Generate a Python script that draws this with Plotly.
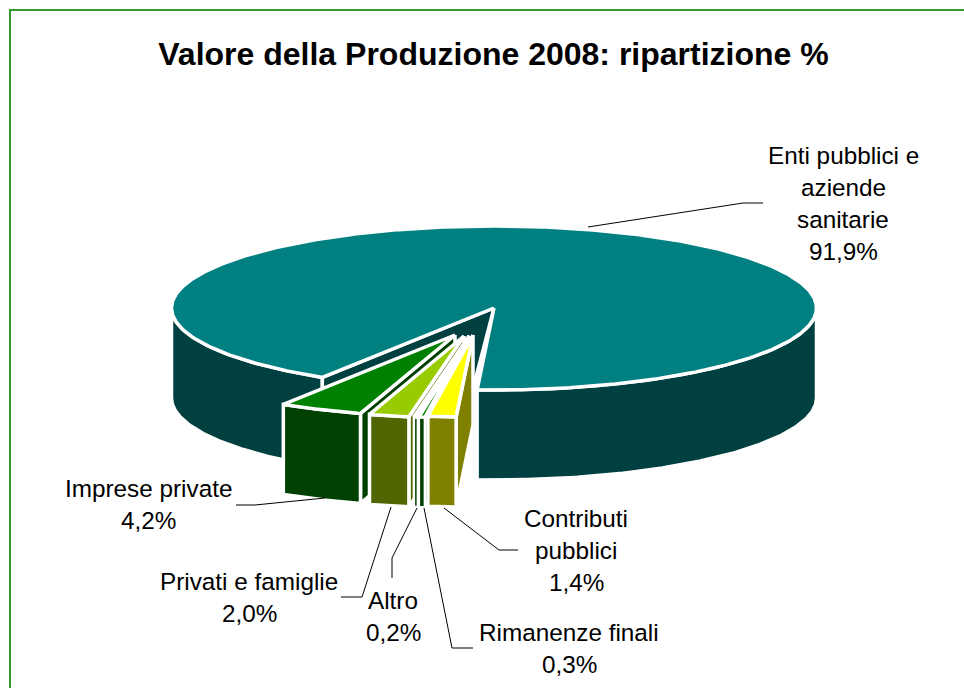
import math
import plotly.graph_objects as go

# ---- data ----
categories = ["Enti pubblici e aziende sanitarie", "Contributi pubblici", "Rimanenze finali",
              "Altro", "Privati e famiglie", "Imprese private"]
values = [91.9, 1.4, 0.3, 0.2, 2.0, 4.2]
value_labels = ["91,9%", "1,4%", "0,3%", "0,2%", "2,0%", "4,2%"]
label_lines = [["Enti pubblici e", "aziende", "sanitarie"], ["Contributi", "pubblici"],
               ["Rimanenze finali"], ["Altro"], ["Privati e famiglie"], ["Imprese private"]]
top_colors = ["#008080", "#FFFF00", "#008000", "#008000", "#99CC00", "#008000"]
wall_colors = ["#004040", "#808000", "#004000", "#004000", "#506600", "#004000"]

# ---- layout of the drawing (pixels of the 964x688 canvas) ----
CX, CY, RX, RY, H = 494, 308, 322.5, 82, 90
START = 3.0   # degrees from the front of the pie, growing towards the left (clockwise seen from above)
OFFSETS = {1: (-21, 27), 2: (-24, 28), 3: (-25, 28), 4: (-30, 28), 5: (-39, 27)}
LABEL_POS = [(843, 155.5), (576, 518.5), (569, 632.5), (393, 600.5), (249, 581.5), (148, 488.5)]
LINE_STEP = 32
LEADERS = [
    [(588, 227), (743, 203), (763, 203)],
    [(444, 508), (499, 550), (518, 550)],
    [(424, 508), (452, 648), (473, 648)],
    [(417, 508), (392, 558), (392, 578)],
    [(391, 507), (362, 597), (341, 597)],
    [(325, 498), (255, 505), (236, 505)],
]
GREEN = "#339933"
STROKE, THIN_STROKE = 3.5, 2.5


def rim(t, dx=0, dy=0):
    r = math.radians(t)
    return CX - RX * math.sin(r) + dx, CY + RY * math.cos(r) + dy


def arc(a, b, dx=0, dy=0):
    n = max(2, int(abs(b - a) * 2))
    return [rim(a + (b - a) * i / n, dx, dy) for i in range(n + 1)]


def poly(points, fill, name, width=STROKE):
    xs = [p[0] for p in points] + [points[0][0]]
    ys = [p[1] for p in points] + [points[0][1]]
    return go.Scatter(x=xs, y=ys, mode="lines", fill="toself", fillcolor=fill, name=name,
                      line=dict(color="white", width=width), hoverinfo="name", showlegend=False)


# slice angles: small slices run from START towards the left, the big one takes the rest
spans = {}
a = START
for i in range(1, len(values)):
    b = a + values[i] * 3.6
    spans[i] = (a, b)
    a = b
cut_left = a
big_end = START + 360

traces = []
# big slice: visible walls, inner wall, top
apex = (CX, CY)
traces.append(poly(arc(cut_left, 90) + [(p[0], p[1] + H) for p in arc(90, cut_left)], wall_colors[0], categories[0]))
traces.append(poly(arc(270, big_end) + [(p[0], p[1] + H) for p in arc(big_end, 270)], wall_colors[0], categories[0]))
cl = rim(cut_left)
traces.append(poly([apex, cl, (cl[0], cl[1] + H), rim(START, -5, 2)], wall_colors[0], categories[0]))
traces.append(poly([apex] + arc(cut_left, big_end), top_colors[0], categories[0]))

# exploded slices, left-most first so that those further right sit on top
for i in range(len(values) - 1, 0, -1):
    a, b = spans[i]
    dx, dy = OFFSETS[i]
    ap = (CX + dx, CY + dy)
    end = rim(a, dx, dy)
    wall_w = THIN_STROKE if values[i] < 0.5 else STROKE
    # cut face on the right of the slice
    traces.append(poly([ap, end, (end[0], end[1] + H), (ap[0], ap[1] + H)], wall_colors[i], categories[i], wall_w))
    # front wall
    traces.append(poly(arc(a, b, dx, dy) + [(p[0], p[1] + H) for p in arc(b, a, dx, dy)],
                       wall_colors[i], categories[i], wall_w))
    # top
    traces.append(poly([ap] + arc(a, b, dx, dy), top_colors[i], categories[i]))

fig = go.Figure(traces)

annotations = []
for lines, val, (x, y) in zip(label_lines, value_labels, LABEL_POS):
    for k, line in enumerate(lines + [val]):
        annotations.append(dict(x=x, y=y + k * LINE_STEP, text=line, showarrow=False, xref="x", yref="y",
                                xanchor="center", yanchor="middle",
                                font=dict(family="Liberation Sans", size=24.3, color="black")))

shapes = []
for pts in LEADERS:
    path = "M " + " L ".join(f"{x},{y}" for x, y in pts)
    shapes.append(dict(type="path", path=path, xref="x", yref="y", line=dict(color="black", width=1)))
shapes.append(dict(type="path", path="M 10,688 L 10,10 L 964,10", xref="x", yref="y",
                   line=dict(color=GREEN, width=2)))

fig.update_layout(
    width=964, height=688, margin=dict(l=0, r=0, t=0, b=0, pad=0),
    paper_bgcolor="white", plot_bgcolor="white", showlegend=False,
    xaxis=dict(range=[0, 964], visible=False, fixedrange=True),
    yaxis=dict(range=[688, 0], visible=False, fixedrange=True),
    title=dict(text="<b>Valore della Produzione 2008: ripartizione %</b>", x=493.5 / 964, xanchor="center",
               y=1 - 54 / 688, yanchor="middle", font=dict(family="Liberation Sans", size=32, color="black")),
    annotations=annotations, shapes=shapes,
)
fig.write_html("out.html", config={"displayModeBar": False},
               post_script="document.body.style.margin='0';")
